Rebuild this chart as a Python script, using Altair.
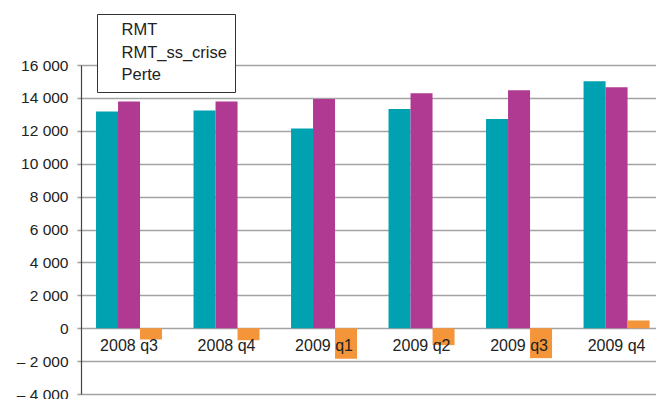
import altair as alt
import pandas as pd

categories = ["2008 q3", "2008 q4", "2009 q1", "2009 q2", "2009 q3", "2009 q4"]
series = ["RMT", "RMT_ss_crise", "Perte"]
rmt = [13170, 13230, 12140, 13320, 12710, 15010]
rmt_ss_crise = [13780, 13780, 13940, 14290, 14470, 14650]
perte = [-690, -730, -1860, -1030, -1820, 470]
colors = ["#00A2B1", "#B03A91", "#F5953A"]
y_ticks = [-4000, -2000, 0, 2000, 4000, 6000, 8000, 10000, 12000, 14000, 16000]

rows = []
for i, c in enumerate(categories):
    for s, vals in zip(series, [rmt, rmt_ss_crise, perte]):
        rows.append({"cat": c, "serie": s, "valeur": vals[i]})
df = pd.DataFrame(rows)

label_expr = (
    "datum.value < 0 ? '\u2013 ' + replace(format(-datum.value, ','), ',', ' ') "
    ": replace(format(datum.value, ','), ',', ' ')"
)

chart = alt.Chart(df).mark_bar().encode(
    x=alt.X(
        "cat:N",
        sort=categories,
        scale=alt.Scale(paddingInner=0.323, paddingOuter=0.11, align=0.7),
        axis=alt.Axis(
            title=None, orient="bottom", offset=-65.7, domain=False, ticks=False,
            grid=False, labelAngle=0, labelPadding=9, labelFontSize=16,
            labelColor="#222222", zindex=1,
        ),
    ),
    xOffset=alt.XOffset("serie:N", sort=series,
                        scale=alt.Scale(paddingInner=0, paddingOuter=0)),
    y=alt.Y(
        "valeur:Q",
        scale=alt.Scale(domain=[-4000, 16000], nice=False, zero=False),
        axis=alt.Axis(
            title=None, values=y_ticks, labelExpr=label_expr, grid=True,
            gridColor="#A3A3A3", gridWidth=1.6, domainColor="#444444",
            domainWidth=1.2, tickColor="#A3A3A3", tickWidth=1.6, tickSize=4,
            labelPadding=9, labelFontSize=15.5, labelColor="#222222",
        ),
    ),
    color=alt.Color(
        "serie:N",
        sort=series,
        title=None,
        scale=alt.Scale(domain=series, range=colors),
        legend=alt.Legend(
            orient="none", legendX=16, legendY=-51, fillColor="white",
            strokeColor="#333333", padding=8, symbolSize=0,
            symbolOpacity=0, symbolStrokeWidth=0, labelFontSize=16.5,
            labelOffset=0, rowPadding=5.5, labelColor="#222222",
        ),
    ),
).properties(
    width=575,
    height=329,
    autosize=alt.AutoSizeParams(type="none"),
    padding={"left": 81, "top": 65, "right": 0, "bottom": 5},
).configure_view(
    stroke=None
).configure(
    font="Liberation Sans"
)

chart.save("out.html", embed_options={"renderer": "svg", "actions": False})
